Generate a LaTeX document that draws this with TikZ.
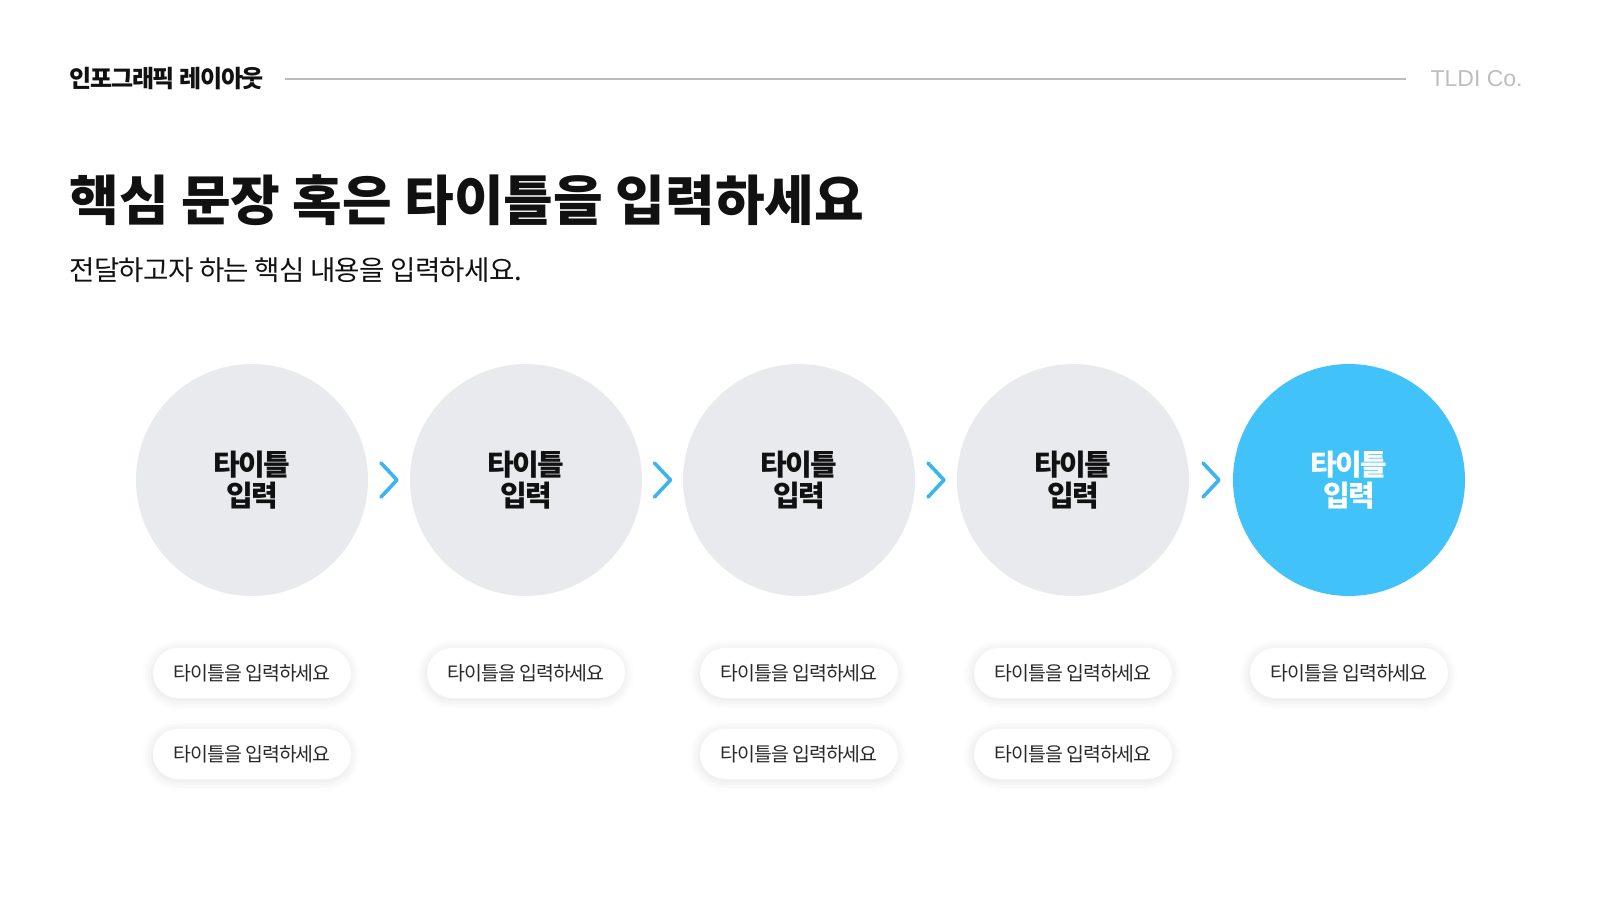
\documentclass[tikz,border=0pt]{standalone}
\usepackage{fontspec}
\setmainfont{Noto Sans CJK KR}[LetterSpace=-5]
\newfontfamily\titlefont{Noto Sans CJK KR}
\newfontfamily\subfont{Noto Sans CJK KR}[LetterSpace=-2.5]
\newfontfamily\cofont{Liberation Sans}
\usetikzlibrary{shapes.misc, shadows.blur}

\definecolor{stepgray}{HTML}{E9EAEE}
\definecolor{stepblue}{HTML}{41C3F9}
\definecolor{chevblue}{HTML}{3BB6EC}
\definecolor{rulegray}{HTML}{BBBBBB}
\definecolor{cogray}{HTML}{BDBDBD}
\definecolor{inkdark}{HTML}{111111}

\tikzset{
  stepcircle/.style={circle, fill=stepgray, minimum size=116pt, inner sep=0pt,
    align=center, text=inkdark, font=\fontsize{14.5}{15.5}\selectfont\bfseries},
  laststep/.style={stepcircle, fill=stepblue, text=white},
  pill/.style={rounded rectangle, fill=white, minimum width=99pt, minimum height=25pt,
    inner sep=0pt, text=inkdark!90, font=\fontsize{9.7}{12}\selectfont,
    blur shadow={shadow xshift=-0.4pt, shadow yshift=-0.8pt, shadow blur radius=5pt, shadow opacity=12}},
  chevron/.pic={\draw[chevblue, line width=1.8pt, line cap=round, line join=round] (-8,-17) -- (8,0) -- (-8,17);}
}

\begin{document}
\begin{tikzpicture}[x=0.5pt, y=-0.5pt]
\useasboundingbox (0,0) rectangle (1600,900);

% header
\node[anchor=west, inner sep=0pt, text=inkdark, font=\fontsize{12}{14}\selectfont\bfseries] (hdr) at (69,79) {인포그래픽 레이아웃};
\node[anchor=east, inner sep=0pt, text=cogray, font=\cofont\fontsize{11.5}{14}\selectfont] (co) at (1523,79) {TLDI Co.};
\draw[rulegray, line width=0.6pt] ([xshift=10.5pt]hdr.east) -- ([xshift=-12pt]co.west);

% title
\node[anchor=west, inner sep=0pt, text=inkdark, font=\titlefont\fontsize{27}{32}\selectfont\bfseries] (title) at (69,200) {핵심 문장 혹은 타이틀을 입력하세요};
\node[anchor=west, inner sep=0pt, text=inkdark, font=\subfont\fontsize{13.8}{16}\selectfont] (sub) at (69,270) {전달하고자 하는 핵심 내용을 입력하세요.};

% steps
\node[stepcircle] (s1) at (252,480) {타이틀\\입력};
\node[stepcircle] (s2) at (526,480) {타이틀\\입력};
\node[stepcircle] (s3) at (799,480) {타이틀\\입력};
\node[stepcircle] (s4) at (1073,480) {타이틀\\입력};
\node[laststep] (s5) at (1349,480) {타이틀\\입력};

\path (s1) -- pic{chevron} (s2);
\path (s2) -- pic{chevron} (s3);
\path (s3) -- pic{chevron} (s4);
\path (s4) -- pic{chevron} (s5);

% labels
\node[pill] (t11) at (252,673) {타이틀을 입력하세요};
\node[pill] (t12) at (252,754) {타이틀을 입력하세요};
\node[pill] (t21) at (526,673) {타이틀을 입력하세요};
\node[pill] (t31) at (799,673) {타이틀을 입력하세요};
\node[pill] (t32) at (799,754) {타이틀을 입력하세요};
\node[pill] (t41) at (1073,673) {타이틀을 입력하세요};
\node[pill] (t42) at (1073,754) {타이틀을 입력하세요};
\node[pill] (t51) at (1349,673) {타이틀을 입력하세요};
\end{tikzpicture}
\end{document}
